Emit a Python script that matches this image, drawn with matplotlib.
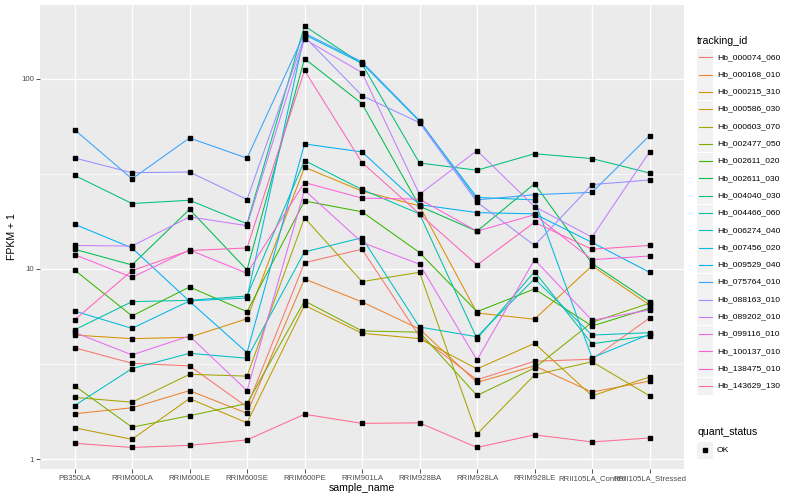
import matplotlib
matplotlib.use("Agg")
import matplotlib.pyplot as plt
from matplotlib.lines import Line2D
from matplotlib.patches import Rectangle
from matplotlib.ticker import FixedLocator, NullFormatter
import numpy as np

plt.rcParams['font.family'] = ['Liberation Sans', 'DejaVu Sans']

samples = ["PB350LA", "RRIM600LA", "RRIM600LE", "RRIM600SE", "RRIM600PE",
           "RRIM901LA", "RRIM928BA", "RRIM928LA", "RRIM928LE",
           "RRII105LA_Control", "RRII105LA_Stressed"]

tracking_ids = ["Hb_000074_060", "Hb_000168_010", "Hb_000215_310", "Hb_000586_030",
                "Hb_000603_070", "Hb_002477_050", "Hb_002611_020", "Hb_002611_030",
                "Hb_004040_030", "Hb_004466_060", "Hb_006274_040", "Hb_007456_020",
                "Hb_009529_040", "Hb_075764_010", "Hb_088163_010", "Hb_089202_010",
                "Hb_099116_010", "Hb_100137_010", "Hb_138475_010", "Hb_143629_130"]

colors = ["#F8766D", "#EA8331", "#D89000", "#C09B00", "#A3A500", "#7CAE00",
          "#39B600", "#00BB4E", "#00BF7D", "#00C1A3", "#00BFC4", "#00BAE0",
          "#00B0F6", "#35A2FF", "#9590FF", "#C77CFF", "#E76BF3", "#FA62DB",
          "#FF62BC", "#FF6C91"]

# FPKM + 1 values per sample (order of `samples`)
hb_000074_060 = [3.85, 3.19, 3.09, 1.88, 10.8, 12.7, 4.42, 2.61, 3.27, 3.35, 5.52]
hb_000168_010 = [1.73, 1.86, 2.29, 1.74, 8.86, 6.71, 4.83, 2.53, 3.09, 2.25, 2.57]
hb_000215_310 = [4.49, 4.30, 4.37, 5.47, 34.3, 25.7, 21.5, 5.87, 5.44, 10.4, 6.47]
hb_000586_030 = [1.46, 1.27, 2.08, 1.55, 6.44, 4.59, 4.30, 2.98, 4.06, 2.15, 2.70]
hb_000603_070 = [2.11, 1.99, 2.79, 2.73, 18.6, 8.58, 9.61, 1.35, 2.77, 3.25, 2.15]
hb_002477_050 = [2.43, 1.47, 1.69, 1.96, 6.79, 4.72, 4.65, 2.16, 3.01, 5.24, 6.60]
hb_002611_020 = [9.88, 5.66, 8.04, 5.96, 22.8, 20.0, 12.2, 5.96, 7.85, 5.01, 6.21]
hb_002611_030 = [12.7, 10.5, 20.6, 9.88, 128, 74.1, 21.4, 15.8, 28.1, 10.7, 6.73]
hb_004040_030 = [31.1, 22.1, 23.0, 17.3, 190, 120, 36.1, 33.1, 40.4, 38.1, 32.0]
hb_004466_060 = [4.78, 6.73, 6.84, 7.21, 37.2, 26.2, 19.5, 4.30, 9.68, 4.04, 4.46]
hb_006274_040 = [1.91, 2.99, 3.60, 3.39, 12.3, 14.6, 4.95, 4.40, 8.89, 4.49, 4.62]
hb_007456_020 = [6.01, 4.87, 6.79, 7.04, 171, 121, 59.8, 23.8, 23.1, 3.41, 4.53]
hb_009529_040 = [17.2, 12.9, 6.76, 3.63, 45.5, 41.3, 21.8, 19.8, 19.5, 13.8, 9.61]
hb_075764_010 = [54.1, 29.8, 48.9, 38.3, 174, 123, 60.4, 23.1, 24.6, 25.3, 50.3]
hb_088163_010 = [38.4, 32.1, 32.4, 23.2, 167, 81.7, 58.9, 22.5, 13.3, 27.8, 29.4]
hb_089202_010 = [13.3, 13.2, 18.8, 16.9, 162, 108, 24.7, 42.0, 21.3, 14.7, 41.3]
hb_099116_010 = [4.64, 3.53, 4.44, 2.29, 26.0, 13.8, 10.6, 3.32, 11.2, 5.37, 6.08]
hb_100137_010 = [11.9, 9.04, 12.6, 9.49, 28.5, 23.6, 23.3, 15.8, 19.3, 11.2, 11.7]
hb_138475_010 = [5.39, 9.80, 12.5, 12.9, 111, 36.3, 19.5, 10.5, 17.6, 12.7, 13.3]
hb_143629_130 = [1.21, 1.15, 1.18, 1.26, 1.72, 1.54, 1.55, 1.15, 1.34, 1.23, 1.29]

series = [hb_000074_060, hb_000168_010, hb_000215_310, hb_000586_030, hb_000603_070,
          hb_002477_050, hb_002611_020, hb_002611_030, hb_004040_030, hb_004466_060,
          hb_006274_040, hb_007456_020, hb_009529_040, hb_075764_010, hb_088163_010,
          hb_089202_010, hb_099116_010, hb_100137_010, hb_138475_010, hb_143629_130]

W, H = 800, 500
fig = plt.figure(figsize=(8, 5), dpi=100)
L, R, T, B = 40, 684, 5, 469
ax = fig.add_axes([L / W, 1 - B / H, (R - L) / W, (B - T) / H])
ax.set_facecolor("#EBEBEB")
for s in ax.spines.values():
    s.set_visible(False)

x = np.arange(len(samples))
for vals, c in zip(series, colors):
    ax.plot(x, vals, color=c, linewidth=0.75, zorder=2)
for vals in series:
    ax.plot(x, vals, linestyle="none", marker="s", markersize=2.4,
            color="black", zorder=3)

ax.set_yscale("log")
ax.set_xlim(-0.6, len(samples) - 1 + 0.6)
ax.set_ylim(0.886, 245)
ax.set_xticks(x)
ax.set_xticklabels(samples)
ax.yaxis.set_major_locator(FixedLocator([1, 10, 100]))
ax.set_yticklabels(["1", "10", "100"])
ax.yaxis.set_minor_locator(FixedLocator([10 ** 0.5, 10 ** 1.5]))
ax.yaxis.set_minor_formatter(NullFormatter())
ax.tick_params(axis="both", which="major", length=3, width=0.6, color="#333333",
               labelsize=5.6, labelcolor="#4D4D4D", pad=1.5)
ax.tick_params(axis="y", which="minor", length=0)
ax.grid(which="major", color="white", linewidth=1.0, zorder=0)
ax.grid(which="minor", axis="y", color="white", linewidth=0.5, zorder=0)
ax.set_axisbelow(True)

fig.text(362 / W, 1 - 488 / H, "sample_name", ha="center", va="center", fontsize=7.6)
fig.text(12 / W, 1 - 237 / H, "FPKM + 1", ha="center", va="center",
         rotation=90, fontsize=7.6)


def fx(px):
    return px / W


def fy(py):
    return 1 - py / H


# Legend: tracking_id
fig.text(fx(697), fy(40.5), "tracking_id", ha="left", va="center", fontsize=7.6)
y0, dy = 57.3, 17.3
for i, (tid, c) in enumerate(zip(tracking_ids, colors)):
    yc = y0 + i * dy
    fig.add_artist(Rectangle((fx(697), fy(yc + 8.5)), 16 / W, 17 / H,
                             facecolor="#F2F2F2", edgecolor="none",
                             transform=fig.transFigure))
    fig.add_artist(Line2D([fx(698.5), fx(711.5)], [fy(yc), fy(yc)], color=c,
                          linewidth=0.8, transform=fig.transFigure))
    fig.text(fx(717), fy(yc), tid, ha="left", va="center", fontsize=6.1)

# Legend: quant_status
fig.text(fx(697), fy(432), "quant_status", ha="left", va="center", fontsize=7.6)
yk = 450
fig.add_artist(Rectangle((fx(697), fy(yk + 8.5)), 16 / W, 17 / H,
                         facecolor="#F2F2F2", edgecolor="none",
                         transform=fig.transFigure))
fig.add_artist(Line2D([fx(705)], [fy(yk)], marker="s", markersize=2.4,
                      color="black", linestyle="none", transform=fig.transFigure))
fig.text(fx(717), fy(yk), "OK", ha="left", va="center", fontsize=6.1)

fig.savefig("out.png", dpi=100, facecolor="white")
